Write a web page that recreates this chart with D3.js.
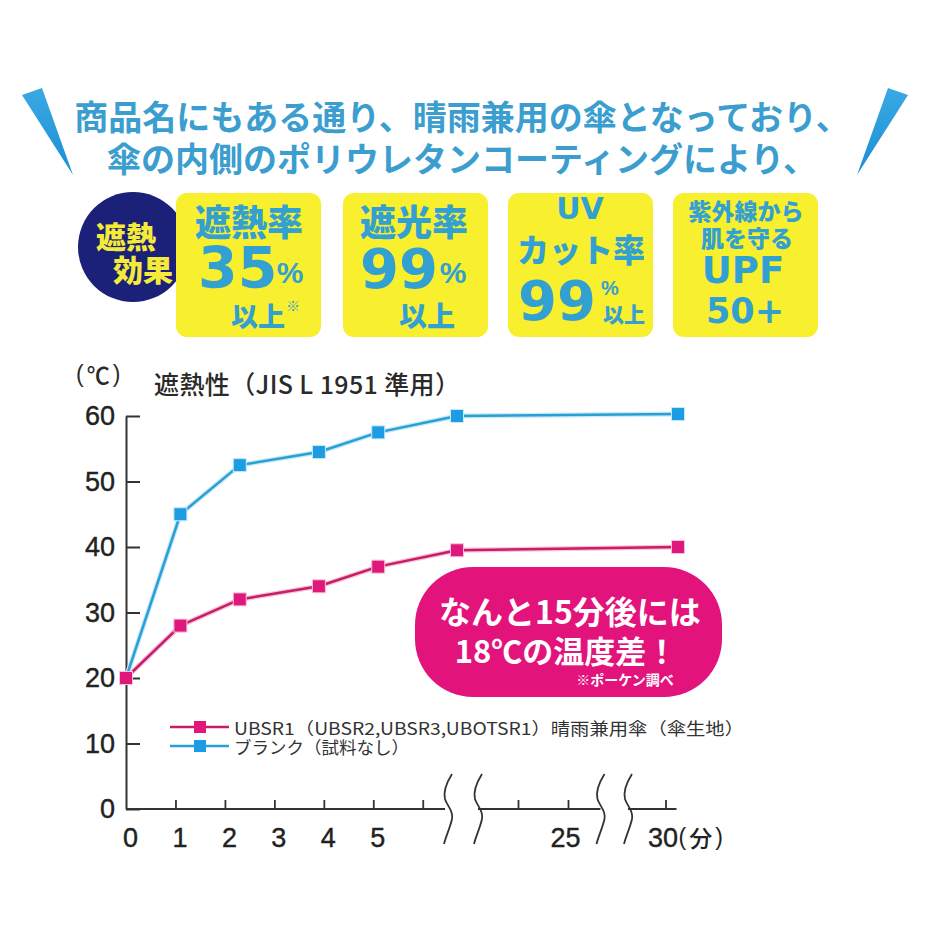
<!DOCTYPE html>
<html>
<head>
<meta charset="utf-8">
<script src="https://cdn.jsdelivr.net/npm/d3@7"></script>
<style>
  body { margin: 0; background: #fff; }
  text { font-family: "Noto Sans CJK JP", sans-serif; }
</style>
</head>
<body>
<div id="chart"></div>
<script>
// values
const minutes = [0, 1.1, 2.3, 3.9, 5.1, 15, 30.25];
const umbrellaTemp = [20, 28, 32, 34, 37, 39.5, 40];
const blankTemp = [20, 45, 52.5, 54.5, 57.5, 60, 60.3];
const seriesNames = ["UBSR1（UBSR2,UBSR3,UBOTSR1）晴雨兼用傘（傘生地）", "ブランク（試料なし）"];
const yTickValues = [0, 10, 20, 30, 40, 50, 60];
const xTickMarks = [1, 2, 3, 4, 5, 6, 24, 25, 30];
const xTickLabels = [0, 1, 2, 3, 4, 5, 25, 30];
const headline = ["商品名にもある通り、晴雨兼用の傘となっており、", "傘の内側のポリウレタンコーティングにより、"];
const badgeCircle = ["遮熱", "効果"];
const badgeHeads = [["遮熱率"], ["遮光率"], ["UV", "カット率"], ["紫外線から", "肌を守る"]];
const badgeFigures = ["35", "99", "99", "UPF"];
const badgeSubs = [["%", "以上", "※"], ["%", "以上"], ["%", "以上"], ["50+"]];
const calloutLines = ["なんと15分後には", "18℃の温度差！", "※ポーケン調べ"];
const chartTitle = "遮熱性（JIS L 1951 準用）";
const unitY = "℃";
const unitX = "分";

const W = 930, H = 930;
const blueText = "#33a0d2";
const yellow = "#f8ef2e";

const svg = d3.select("#chart").append("svg")
    .attr("width", W)
    .attr("height", H);

svg.append("rect").attr("width", W).attr("height", H).attr("fill", "#fff");

//#region header
const defs = svg.append("defs");
const spikeGrad = defs.append("linearGradient")
    .attr("id", "spike").attr("x1", "0%").attr("x2", "0%").attr("y1", "0%").attr("y2", "100%");
spikeGrad.append("stop").attr("offset", "0%").attr("stop-color", "#3aa9e4");
spikeGrad.append("stop").attr("offset", "100%").attr("stop-color", "#1a8fd3");

svg.append("path").attr("d", "M22,95 L42,88 L73,175 Z").attr("fill", "url(#spike)");
svg.append("path").attr("d", "M908,95 L888,88 L857,175 Z").attr("fill", "url(#spike)");

svg.selectAll(".headline")
    .data(headline)
    .join("text")
    .attr("class", "headline")
    .attr("x", 462)
    .attr("y", (d, i) => 115 + i * 42)
    .attr("text-anchor", "middle")
    .attr("dominant-baseline", "central")
    .style("font-size", "34px")
    .style("font-weight", 700)
    .attr("fill", "#3b9ecf")
    .text(d => d);
//#endregion

//#region badges
svg.append("circle").attr("cx", 133).attr("cy", 247).attr("r", 55).attr("fill", "#1b2078");
svg.selectAll(".circleText")
    .data(badgeCircle)
    .join("text")
    .attr("class", "circleText")
    .attr("x", (d, i) => 126 + i * 17)
    .attr("y", (d, i) => 235 + i * 33)
    .attr("text-anchor", "middle")
    .attr("dominant-baseline", "central")
    .style("font-size", "30px")
    .style("font-weight", 900)
    .attr("fill", "#f4ea3a")
    .text(d => d);

const boxX = [176, 343, 508, 673];
svg.selectAll(".box")
    .data(boxX)
    .join("rect")
    .attr("class", "box")
    .attr("x", d => d).attr("y", 193)
    .attr("width", 145).attr("height", 144)
    .attr("rx", 11)
    .attr("fill", yellow);

function put(txt, px, py, size, opts = {}) {
    return svg.append("text")
        .attr("x", px).attr("y", py)
        .attr("text-anchor", opts.anchor || "middle")
        .attr("dominant-baseline", opts.baseline || "central")
        .style("font-family", opts.family || "'Noto Sans CJK JP'")
        .style("font-size", size + "px")
        .style("font-weight", opts.weight || 900)
        .attr("fill", opts.fill || blueText)
        .text(txt);
}
const digitFont = "'DejaVu Sans'";

// box 1
put(badgeHeads[0][0], 249, 220, 36);
put(badgeFigures[0], 198, 288, 57, { anchor: "start", baseline: "alphabetic", family: digitFont, weight: 700 });
put(badgeSubs[0][0], 290, 283, 30, { baseline: "alphabetic", family: "'Liberation Sans'", weight: 700 });
put(badgeSubs[0][1], 258, 315, 27);
put(badgeSubs[0][2], 293, 305, 14, { weight: 400 });

// box 2
put(badgeHeads[1][0], 414, 220, 36);
put(badgeFigures[1], 360, 288, 56, { anchor: "start", baseline: "alphabetic", family: digitFont, weight: 700 });
put(badgeSubs[1][0], 453, 283, 30, { baseline: "alphabetic", family: "'Liberation Sans'", weight: 700 });
put(badgeSubs[1][1], 427, 315, 28);

// box 3
put(badgeHeads[2][0], 580, 208, 30, { family: digitFont, weight: 700 });
put(badgeHeads[2][1], 581, 248, 32);
put(badgeFigures[2], 518, 320, 56, { anchor: "start", baseline: "alphabetic", family: digitFont, weight: 700 });
put(badgeSubs[2][0], 610, 288, 20, { family: "'Liberation Sans'", weight: 700 });
put(badgeSubs[2][1], 624, 313, 21);

// box 4
put(badgeHeads[3][0], 746, 210, 23);
put(badgeHeads[3][1], 747, 237, 23);
put(badgeFigures[3], 743, 283, 37, { baseline: "alphabetic", family: digitFont, weight: 700 });
put(badgeSubs[3][0], 745, 323, 35, { baseline: "alphabetic", family: digitFont, weight: 700 });
//#endregion

//#region chart scales
// broken time axis: 0-6.45 min, 23.2-25.65 min, 29.25-30.25 min
const xScale = d3.scaleLinear()
    .domain([0, 6.45, 15, 23.2, 25.65, 29.25, 30.25])
    .range([126, 445, 457, 478, 600.5, 628, 678]);

const yScale = d3.scaleLinear()
    .domain([0, 60])
    .range([809, 416]);

const axisSegments = [[0, 6.45], [23.2, 25.65], [29.25, 30.22]];
const breakPoints = [6.45, 23.2, 25.65, 29.25];
//#endregion

//#region titles
// unit in brackets: narrow brackets round a CJK symbol
function bracketed(inner, px, py, size, color) {
    const t = svg.append("text")
        .attr("x", px).attr("y", py)
        .attr("dominant-baseline", "central")
        .attr("fill", color)
        .style("font-size", size + "px")
        .style("font-weight", 500);
    t.append("tspan").style("font-family", "'Liberation Sans'").text("(");
    t.append("tspan").attr("dx", 3).text(inner);
    t.append("tspan").attr("dx", 3).style("font-family", "'Liberation Sans'").text(")");
    return t;
}
bracketed(unitY, 76, 374, 23, "#2a2a2a");
put(chartTitle, 154, 383, 25, { anchor: "start", weight: 500, fill: "#2a2a2a" })
    .attr("textLength", 306).attr("lengthAdjust", "spacing");
//#endregion

//#region y axis
const gy = svg.append("g")
    .attr("transform", `translate(${xScale(0)},0)`)
    .call(d3.axisLeft(yScale).tickValues(yTickValues).tickSizeInner(-14).tickSizeOuter(0).tickPadding(11));
gy.select(".domain").attr("stroke", "#333").attr("stroke-width", 2);
gy.selectAll(".tick line").attr("stroke", "#333").attr("stroke-width", 2);
gy.selectAll("text")
    .style("font-family", "'Liberation Sans'")
    .style("font-size", "27px")
    .attr("fill", "#222")
    .attr("stroke", "#222").attr("stroke-width", 0.4);
//#endregion

//#region x axis
svg.selectAll(".xseg")
    .data(axisSegments)
    .join("line")
    .attr("class", "xseg")
    .attr("x1", d => xScale(d[0]))
    .attr("x2", d => xScale(d[1]))
    .attr("y1", yScale(0)).attr("y2", yScale(0))
    .attr("stroke", "#333").attr("stroke-width", 2);

const gxTicks = svg.append("g")
    .attr("transform", `translate(0,${yScale(0)})`)
    .call(d3.axisBottom(xScale).tickValues(xTickMarks).tickSizeInner(-9).tickSizeOuter(0).tickFormat(""));
gxTicks.select(".domain").remove();
gxTicks.selectAll(".tick line").attr("stroke", "#333").attr("stroke-width", 1.8);

const gxLabels = svg.append("g")
    .attr("transform", `translate(0,${yScale(0)})`)
    .call(d3.axisBottom(xScale).tickValues(xTickLabels).tickSize(0).tickPadding(19));
gxLabels.select(".domain").remove();
gxLabels.selectAll("text")
    .style("font-family", "'Liberation Sans'")
    .style("font-size", "27px")
    .attr("fill", "#222")
    .attr("stroke", "#222").attr("stroke-width", 0.4)
    .attr("dx", d => d <= 5 ? 4 : -3);

bracketed(unitX, xScale(30) + 13, 837, 23, "#222");

svg.selectAll(".break")
    .data(breakPoints)
    .join("path")
    .attr("class", "break")
    .attr("transform", (d, i) => `translate(${xScale(d) + (i === 0 ? 3 : 0)},${yScale(0)})`)
    .attr("d", "M4,-35 C-1,-27 -5,-18 -3,-10 C-1,-3 6,2 4,10 C2,19 -2,27 -4,35")
    .attr("fill", "none")
    .attr("stroke", "#333")
    .attr("stroke-width", 1.8);
//#endregion

//#region series
const series = [
    { values: umbrellaTemp, line: "#c71d67", mark: "#e0187c", glow: "#f6c3db" },
    { values: blankTemp, line: "#2a9fd4", mark: "#1c9ce2", glow: "#c6eaf9" }
];

const lineGenerator = d3.line()
    .x((d, i) => xScale(minutes[i]))
    .y(d => yScale(d));

series.forEach(s => {
    svg.append("path")
        .datum(s.values)
        .attr("d", lineGenerator)
        .attr("fill", "none")
        .attr("stroke", s.glow)
        .attr("stroke-width", 5)
        .attr("stroke-linejoin", "round");
    svg.append("path")
        .datum(s.values)
        .attr("d", lineGenerator)
        .attr("fill", "none")
        .attr("stroke", s.line)
        .attr("stroke-width", 2.5)
        .attr("stroke-linejoin", "round");
});

series.slice().reverse().forEach(s => {
    svg.append("g")
        .selectAll("rect")
        .data(s.values)
        .join("rect")
        .attr("x", (d, i) => xScale(minutes[i]) - 6.5)
        .attr("y", d => yScale(d) - 6.5)
        .attr("width", 13).attr("height", 13)
        .attr("fill", s.mark)
        .attr("stroke", s.glow).attr("stroke-width", 1);
});
//#endregion

//#region legend
const legend = svg.append("g");
seriesNames.forEach((name, i) => {
    const ly = 727 + i * 19;
    const s = series[i];
    legend.append("line")
        .attr("x1", 170).attr("x2", 229)
        .attr("y1", ly).attr("y2", ly)
        .attr("stroke", s.line).attr("stroke-width", 2.5);
    legend.append("rect")
        .attr("x", 194).attr("y", ly - 6)
        .attr("width", 12).attr("height", 12)
        .attr("fill", s.mark);
    const t = legend.append("text")
        .attr("x", 234).attr("y", ly)
        .attr("dominant-baseline", "central")
        .style("font-size", "17px")
        .attr("fill", "#333")
        .text(name);
    if (i === 0) t.attr("textLength", 510).attr("lengthAdjust", "spacingAndGlyphs");
    else t.attr("textLength", 175).attr("lengthAdjust", "spacingAndGlyphs");
});
//#endregion

//#region callout
svg.append("rect")
    .attr("x", 415).attr("y", 567)
    .attr("width", 307).attr("height", 130)
    .attr("rx", 58)
    .attr("fill", "#e2147c");
put(calloutLines[0], 570, 610, 32, { weight: 700, fill: "#fff" });
put(calloutLines[1], 566, 649, 31, { weight: 700, fill: "#fff" });
put(calloutLines[2], 625, 679, 14, { weight: 700, fill: "#fff" });
//#endregion
</script>
</body>
</html>
